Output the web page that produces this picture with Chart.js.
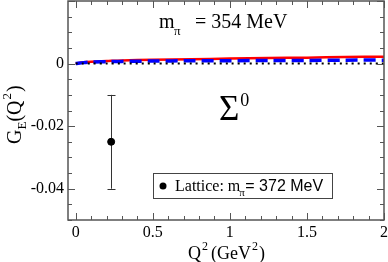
<!DOCTYPE html>
<html>
<head>
<meta charset="utf-8">
<script src="https://cdn.jsdelivr.net/npm/chart.js@4"></script>
<style>
  html, body { margin: 0; padding: 0; background: #fff; }
  #wrap { width: 388px; height: 262px; }
</style>
</head>
<body>
<div id="wrap"><canvas id="myChart" width="388" height="262"></canvas></div>
<script>
// curve samples, Q^2 in GeV^2
const q2 = [0, 0.05, 0.1, 0.2, 0.3, 0.5, 0.75, 1, 1.25, 1.5, 1.75, 2]
const redCurve = [0, 0.0004, 0.0006, 0.0008, 0.001, 0.0012, 0.0014, 0.0016, 0.0018, 0.0019, 0.0021, 0.0022]
const blueCurve = [0, 0.0003, 0.0005, 0.0006, 0.0007, 0.0008, 0.0009, 0.0009, 0.001, 0.001, 0.0011, 0.0011]
const blackCurve = [0, 0, 0, 0, 0, 0, 0, 0, 0, 0, 0, 0]

// lattice point
const latticeX = [0.23]
const latticeY = [-0.025]
const latticeErrLow = [-0.04]
const latticeErrHigh = [-0.01]

// ticks
const xTickLabels = [0, 0.5, 1, 1.5, 2]
const xMinorStep = 0.1
const yTickLabels = [-0.04, -0.02, 0]
const yMinorStep = 0.005

const serif = "'Liberation Serif', 'Times New Roman', serif"
const sans = "'Liberation Sans', Arial, sans-serif"

const pts = (ys) => q2.map((x, i) => ({ x: x, y: ys[i] }))

// chart.js adds room for edge labels, we want a fixed frame
const noPad = (s) => { s.paddingTop = 0; s.paddingBottom = 0; s.paddingLeft = 0; s.paddingRight = 0 }

const framePlugin = {
    id: 'frame',
    beforeDatasetsDraw(chart) {
        const { ctx, scales } = chart
        const xs = scales.x, ys = scales.y
        // error bars
        ctx.save()
        ctx.strokeStyle = '#333'
        ctx.lineWidth = 1
        latticeX.forEach((x, i) => {
            const px = Math.round(xs.getPixelForValue(x)) + 0.5
            const lo = ys.getPixelForValue(latticeErrLow[i])
            const hi = ys.getPixelForValue(latticeErrHigh[i])
            ctx.beginPath()
            ctx.moveTo(px, lo); ctx.lineTo(px, hi)
            ctx.moveTo(px - 4, Math.round(lo) + 0.5); ctx.lineTo(px + 4, Math.round(lo) + 0.5)
            ctx.moveTo(px - 4, Math.round(hi) + 0.5); ctx.lineTo(px + 4, Math.round(hi) + 0.5)
            ctx.stroke()
        })
        ctx.restore()
    },
    afterDraw(chart) {
        const { ctx, chartArea: a, scales } = chart
        const xs = scales.x, ys = scales.y
        ctx.save()
        ctx.strokeStyle = '#555'
        ctx.lineWidth = 1.5
        ctx.strokeRect(a.left, a.top, a.right - a.left, a.bottom - a.top)
        ctx.lineWidth = 1
        ctx.beginPath()
        // x ticks
        for (let k = 0; k <= 20; k++) {
            const v = k * xMinorStep
            const px = Math.round(xs.getPixelForValue(v)) + 0.5
            const len = (k % 5 === 0) ? 7 : 4
            ctx.moveTo(px, a.bottom); ctx.lineTo(px, a.bottom - len)
            ctx.moveTo(px, a.top); ctx.lineTo(px, a.top + len)
        }
        // y ticks
        for (let k = -10; k <= 4; k++) {
            const v = k * yMinorStep
            const py = Math.round(ys.getPixelForValue(v)) + 0.5
            const len = (k % 4 === 0) ? 7 : 4
            ctx.moveTo(a.left, py); ctx.lineTo(a.left + len, py)
            ctx.moveTo(a.right, py); ctx.lineTo(a.right - len, py)
        }
        ctx.stroke()

        ctx.fillStyle = '#000'
        ctx.textBaseline = 'alphabetic'
        ctx.textAlign = 'left'
        // title
        ctx.font = '20px ' + serif
        ctx.fillText('m', 159, 28)
        ctx.font = '13px ' + serif
        ctx.fillText('\u03c0', 174, 35)
        ctx.font = '20px ' + serif
        ctx.fillText('= 354 MeV', 195, 28)

        // Sigma label
        ctx.font = '35px ' + serif
        ctx.fillText('\u03a3', 219, 120)
        const sw = ctx.measureText('\u03a3').width
        ctx.font = '18px ' + serif
        ctx.fillText('0', 219 + sw + 1, 106)

        // x axis title
        let x = 188
        ctx.font = '18px ' + serif
        ctx.fillText('Q', x, 259); x += ctx.measureText('Q').width + 1
        ctx.font = '12px ' + serif
        ctx.fillText('2', x, 250); x += ctx.measureText('2').width + 3
        ctx.font = '18px ' + serif
        ctx.fillText('(GeV', x, 259); x += ctx.measureText('(GeV').width + 1
        ctx.font = '12px ' + serif
        ctx.fillText('2', x, 250); x += ctx.measureText('2').width + 1
        ctx.font = '18px ' + serif
        ctx.fillText(')', x, 259)

        // y axis title
        ctx.save()
        ctx.translate(21, 144)
        ctx.rotate(-Math.PI / 2)
        let t = 0
        ctx.font = '20px ' + serif
        ctx.fillText('G', t, 0); t += ctx.measureText('G').width
        ctx.font = '13px ' + serif
        ctx.fillText('E', t, 5); t += ctx.measureText('E').width
        ctx.font = '20px ' + serif
        ctx.fillText('(Q', t, 0); t += ctx.measureText('(Q').width + 1
        ctx.font = '13px ' + serif
        ctx.fillText('2', t, -10); t += ctx.measureText('2').width + 1
        ctx.font = '20px ' + serif
        ctx.fillText(')', t, 0)
        ctx.restore()

        // legend box
        ctx.strokeStyle = '#444'
        ctx.lineWidth = 1
        ctx.strokeRect(153.5, 173.5, 179, 25)
        ctx.beginPath()
        ctx.arc(163, 186, 3.5, 0, Math.PI * 2)
        ctx.fill()
        let lx = 175
        ctx.font = '16px ' + serif
        ctx.fillText('Lattice: m', lx, 191); lx += ctx.measureText('Lattice: m').width
        ctx.font = '11px ' + serif
        ctx.fillText('\u03c0', lx - 1, 196)
        ctx.font = '16px ' + sans
        ctx.fillText('= 372 MeV', lx + 5, 191)
        ctx.restore()
    },
}

const chart = new Chart(document.getElementById('myChart'), {
    type: 'line',
    data: {
        datasets: [
            {
                data: pts(blackCurve),
                borderColor: '#000',
                borderWidth: 2,
                borderDash: [2, 4],
                pointRadius: 0,
                tension: 0.3,
            },
            {
                data: pts(blueCurve),
                borderColor: '#0000ff',
                borderWidth: 3.5,
                borderDash: [12, 6],
                pointRadius: 0,
                tension: 0.3,
            },
            {
                data: pts(redCurve),
                borderColor: '#ff0000',
                borderWidth: 2.5,
                pointRadius: 0,
                tension: 0.3,
            },
            {
                data: latticeX.map((x, i) => ({ x: x, y: latticeY[i] })),
                showLine: false,
                pointRadius: 3.5,
                pointBackgroundColor: '#000',
                pointBorderColor: '#000',
            },
        ],
    },
    options: {
        responsive: false,
        animation: false,
        layout: { autoPadding: false, padding: { top: 1, right: 4, left: 0, bottom: 0 } },
        plugins: {
            legend: { display: false },
            tooltip: { enabled: false },
        },
        scales: {
            x: {
                type: 'linear',
                min: -0.05,
                max: 2,
                grid: { display: false, drawTicks: false },
                border: { display: false },
                afterBuildTicks: (s) => { s.ticks = xTickLabels.map((v) => ({ value: v })) },
                afterFit: (s) => { s.height = 42; noPad(s) },
                ticks: {
                    autoSkip: false,
                    maxRotation: 0,
                    padding: 3,
                    color: '#000',
                    font: { family: serif, size: 16 },
                    callback: (v) => String(v),
                },
            },
            y: {
                type: 'linear',
                min: -0.05,
                max: 0.02,
                grid: { display: false, drawTicks: false },
                border: { display: false },
                afterBuildTicks: (s) => { s.ticks = yTickLabels.map((v) => ({ value: v })) },
                afterFit: (s) => { s.width = 68; noPad(s) },
                ticks: {
                    autoSkip: false,
                    padding: 4,
                    color: '#000',
                    font: { family: serif, size: 16 },
                    callback: (v) => (v === 0 ? '0' : v.toFixed(2)),
                },
            },
        },
    },
    plugins: [framePlugin],
})
</script>
</body>
</html>
